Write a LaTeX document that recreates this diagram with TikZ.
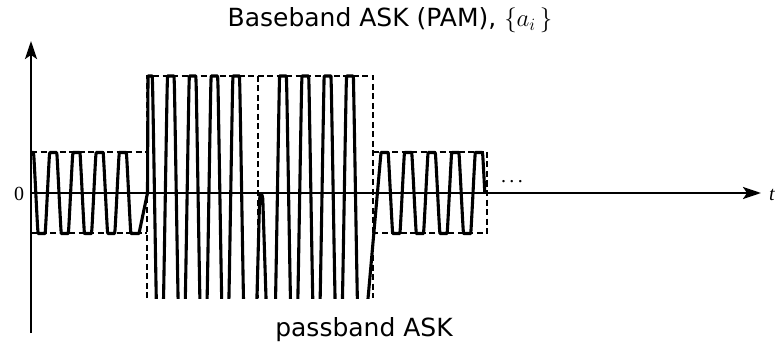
\documentclass[tikz,border=0pt]{standalone}
\usepackage{fontspec}
\setmainfont{DejaVu Sans}
\newfontfamily\seriffont{Liberation Serif}
\usetikzlibrary{arrows.meta}
\begin{document}
\begin{tikzpicture}[x=1pt,y=1pt,
  axisline/.style={line width=2.4pt, -{Stealth[length=18pt,width=12pt,inset=4pt]}},
  envelope/.style={line width=2.3pt, dash pattern=on 6pt off 3.5pt},
  carrier/.style={line width=3.1pt, line join=round},
  caption/.style={font=\fontsize{25}{28}\selectfont, anchor=base, inner sep=0pt},
  axislabel/.style={font=\seriffont\fontsize{20}{22}\selectfont, inner sep=0pt}
]
\useasboundingbox (0,-152) rectangle (783,193);

% axes
\coordinate (o) at (31,0);
\coordinate (xend) at (761,0);
\coordinate (ybot) at (31,-140);
\coordinate (yend) at (31,152);
\draw[axisline] (o) -- (xend);
\draw[axisline] (ybot) -- (yend);
\node[axislabel] (zero) at (19,-1) {0};
\node[axislabel, font=\seriffont\itshape\fontsize{20}{22}\selectfont] (tlab) at (772,-2) {t};
\node[axislabel, anchor=base] (dots) at (512,11) {.\,.\,.};

% titles
\node[caption] (title) at (390,166) {Baseband ASK (PAM), $\{a_i\,\}$};
\node[caption] (bottom) at (364,-143) {passband ASK};

\begin{scope}
\clip (0,-105) rectangle (783,193);
% envelopes
\draw[envelope] (31,41) -- (147,41);
\draw[envelope] (31,-40) -- (147,-40);
\draw[envelope] (147,-105) -- (147,117) -- (373,117) -- (373,-105);
\draw[envelope] (258,117) -- (258,-105);
\draw[envelope] (373,41) -- (487,41) -- (487,-40) -- (373,-40);

% carrier
\draw[carrier]
  plot[domain=31:134.4,samples=220] (\x,{40.5*max(-1,min(1,1.8*cos(360*((\x-30)/23.2))))})
  -- (139,-40.5) -- (147.5,0)
  -- plot[domain=148:247.1,samples=260] (\x,{117*max(-1,min(1,1.8*cos(360*((\x-149)/21.8))))})
  -- (256.6,-117) -- (259.6,-6) .. controls (260.4,0.5) and (262,0.5) .. (262.8,-6) -- (266.4,-117)
  -- plot[domain=270:361.05,samples=240] (\x,{117*max(-1,min(1,1.8*cos(360*((\x-283)/22.3))))})
  -- (367,-117)
  -- plot[domain=381:484.8,samples=260] (\x,{40.5*max(-1,min(1,1.8*cos(360*((\x-384.5)/23.6))))});
\end{scope}
\end{tikzpicture}
\end{document}
